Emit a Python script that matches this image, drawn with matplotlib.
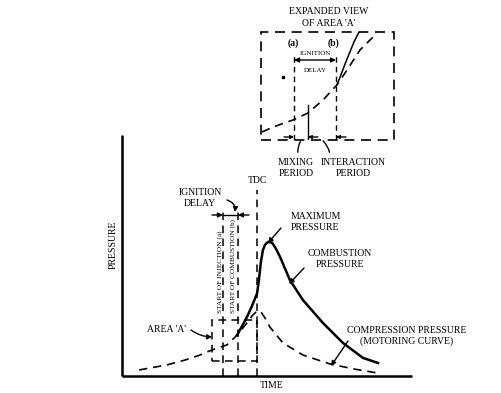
import matplotlib
matplotlib.use("Agg")
import matplotlib.pyplot as plt
from matplotlib.patches import Rectangle, FancyArrowPatch

plt.rcParams['font.family'] = ['Liberation Serif', 'DejaVu Serif']

# ---- data (time, pressure in arbitrary units 0..100) ----
comp_time = [5.9, 15.5, 21.7, 26.9, 31.0, 36.2, 39.7, 43.1, 44.8, 46.6, 47.9, 49.3, 51.0, 55.5, 62.4, 71.7, 80.0, 88.3]
comp_pres = [2.5, 4.6, 6.6, 8.7, 10.8, 12.9, 17.0, 22.0, 24.9, 27.0, 26.6, 24.1, 20.3, 13.7, 8.7, 5.0, 2.9, 1.2]

comb_time = [39.7, 41.4, 43.1, 44.8, 46.6, 47.2, 47.9, 48.6, 49.3, 50.3, 51.7, 53.0, 54.5, 57.9, 62.4, 69.3, 76.2, 83.1, 88.3]
comb_pres = [17.0, 20.7, 24.5, 29.0, 34.4, 39.8, 47.3, 52.3, 54.4, 55.6, 55.4, 53.0, 49.4, 39.8, 31.5, 22.0, 13.7, 7.5, 5.4]

tdc_time = 46.6
inj_time = 34.8
comb_start_time = 40.0

# expanded view (normalized 0..1 inside inset)
inset_comp_u = [0.008, 0.09, 0.24, 0.353, 0.466, 0.571, 0.647, 0.744, 0.872]
inset_comp_v = [0.074, 0.12, 0.185, 0.25, 0.37, 0.51, 0.648, 0.833, 0.99]
inset_comb_u = [0.571, 0.60, 0.64, 0.67, 0.70, 0.737]
inset_comb_v = [0.51, 0.60, 0.73, 0.82, 0.91, 1.0]
inset_a_u = 0.248
inset_b_u = 0.564
inset_mix_u = 0.353

# ---- layout helpers (pixel -> data) ----
def T(px):
    return (px - 122) / 2.9

def P(py):
    return (376 - py) / 2.41

fig = plt.figure(figsize=(5.02, 3.93), dpi=100)
ax = fig.add_axes([0, 0, 1, 1])
ax.set_xlim(T(0), T(502))
ax.set_ylim(P(393), P(0))
ax.axis('off')

K = 'black'
FS = 7
dash = (0, (5, 3.5))

# axes lines
ax.plot([0, 0], [0, 100], color=K, lw=1.8, solid_capstyle='butt')
ax.plot([0, 100], [0, 0], color=K, lw=1.8, solid_capstyle='butt')

# curves
ax.plot(comp_time, comp_pres, color=K, lw=1.2, linestyle=dash)
ax.plot(comb_time, comb_pres, color=K, lw=1.8)

# vertical lines
ax.plot([tdc_time, tdc_time], [0, P(190)], color=K, lw=1.1, linestyle=dash)
ax.plot([inj_time, inj_time], [0, P(211)], color=K, lw=1.1, linestyle=dash)
ax.plot([comb_start_time, comb_start_time], [0, P(211)], color=K, lw=1.1, linestyle=dash)

# area A rectangle
ax.add_patch(Rectangle((T(212), P(361)), tdc_time - T(212), P(320) - P(361),
                       fill=False, lw=1.1, linestyle=dash, edgecolor=K))

# labels
ax.text(T(113), P(245), 'PRESSURE', rotation=90, ha='center', va='center', fontsize=FS)
ax.text(T(272), P(386), 'TIME', ha='center', va='center', fontsize=FS)
ax.text(tdc_time, P(181), 'TDC', ha='center', va='center', fontsize=FS)
ax.text(T(200), P(198), 'IGNITION\nDELAY', ha='center', va='center', fontsize=FS, linespacing=1.2)
ax.text(T(220), P(313), 'START OF INJECTION (a)', rotation=90, ha='center', va='bottom', fontsize=5.3)
ax.text(T(233), P(313), 'START OF COMBUSTION (b)', rotation=90, ha='center', va='bottom', fontsize=5.3)
ax.text(T(167), P(329), "AREA 'A'", ha='center', va='center', fontsize=FS)
ax.text(T(291), P(222), 'MAXIMUM\nPRESSURE', ha='left', va='center', fontsize=FS, linespacing=1.2)
ax.text(T(340), P(259), 'COMBUSTION\nPRESSURE', ha='center', va='center', fontsize=FS, linespacing=1.2)
ax.text(T(407), P(336), 'COMPRESSION PRESSURE\n(MOTORING CURVE)', ha='center', va='center',
        fontsize=FS, linespacing=1.2)

ap = dict(arrowstyle='-|>', color=K, lw=1.0, mutation_scale=7, shrinkA=0, shrinkB=0)
ax.annotate('', xy=(T(268), P(243)), xytext=(T(281), P(228)), arrowprops=ap)
ax.annotate('', xy=(T(289), P(284)), xytext=(T(304), P(268)), arrowprops=ap)
ax.annotate('', xy=(T(331), P(366)), xytext=(T(348), P(341)), arrowprops=ap)
ax.annotate('', xy=(T(212), P(337)), xytext=(T(191), P(330)),
            arrowprops=dict(ap, connectionstyle='arc3,rad=0.15'))
ax.annotate('', xy=(T(235), P(212)), xytext=(T(227), P(200)),
            arrowprops=dict(ap, connectionstyle='arc3,rad=-0.4'))

# ignition delay dimension arrows
yd = P(215)
ax.annotate('', xy=(inj_time, yd), xytext=(T(212), yd), arrowprops=ap)
ax.annotate('', xy=(comb_start_time, yd), xytext=(T(249), yd), arrowprops=ap)
ax.plot([inj_time, comb_start_time], [yd, yd], color=K, lw=1.0)

# ---- inset (expanded view) ----
x0, y0, x1, y1 = 261, 32, 394, 140
iax = fig.add_axes([x0 / 502, 1 - y1 / 393, (x1 - x0) / 502, (y1 - y0) / 393])
iax.set_xlim(0, 1)
iax.set_ylim(0, 1)
iax.axis('off')
iax.add_patch(Rectangle((0, 0), 1, 1, transform=iax.transAxes, fill=False,
                        lw=1.2, linestyle=(0, (6, 4)), edgecolor=K, clip_on=False))
iax.plot(inset_comp_u, inset_comp_v, color=K, lw=1.2, linestyle=dash)
iax.plot(inset_comb_u, inset_comb_v, color=K, lw=1.1)
iax.plot([inset_a_u, inset_a_u], [0, 0.79], color=K, lw=1.0, linestyle=(0, (4, 3)))
iax.plot([inset_b_u, inset_b_u], [0, 0.79], color=K, lw=1.0, linestyle=(0, (4, 3)))
iax.plot([inset_mix_u, inset_mix_u], [0, 0.32], color=K, lw=1.0)

ax.text(T(329), P(12), 'EXPANDED VIEW', ha='center', va='center', fontsize=FS)
ax.text(T(329), P(24), "OF AREA 'A'", ha='center', va='center', fontsize=FS)
ax.text(T(293), P(43), '(a)', ha='center', va='center', fontsize=FS, weight='bold')
ax.text(T(334), P(43), '(b)', ha='center', va='center', fontsize=FS, weight='bold')
ax.text(T(315), P(54), 'IGNITION', ha='center', va='center', fontsize=5)
ax.text(T(315), P(71), 'DELAY', ha='center', va='center', fontsize=5)
yi = P(60)
ax.annotate('', xy=(T(294), yi), xytext=(T(336), yi), arrowprops=dict(ap, arrowstyle='<|-|>'))

# mixing / interaction arrows at inset bottom
yb = P(137)
ap2 = dict(ap, mutation_scale=5)
ax.annotate('', xy=(T(294), yb), xytext=(T(284), yb), arrowprops=ap2)
ax.annotate('', xy=(T(308), yb), xytext=(T(318), yb), arrowprops=ap2)
ax.annotate('', xy=(T(336), yb), xytext=(T(346), yb), arrowprops=ap2)
ax.plot(T(283), P(77), marker='s', ms=1.5, color=K)
ax.text(T(296), P(163), 'MIXING', ha='center', va='center', fontsize=FS)
ax.text(T(296), P(174), 'PERIOD', ha='center', va='center', fontsize=FS)
ax.text(T(353), P(163), 'INTERACTION', ha='center', va='center', fontsize=FS)
ax.text(T(353), P(174), 'PERIOD', ha='center', va='center', fontsize=FS)
ax.annotate('', xy=(T(302), P(139)), xytext=(T(298), P(155)),
            arrowprops=dict(arrowstyle='-', color=K, lw=1.0, connectionstyle='arc3,rad=-0.2'))
ax.annotate('', xy=(T(321), P(139)), xytext=(T(330), P(155)),
            arrowprops=dict(arrowstyle='-', color=K, lw=1.0, connectionstyle='arc3,rad=0.2'))

fig.savefig('out.png', dpi=100, facecolor='white')
